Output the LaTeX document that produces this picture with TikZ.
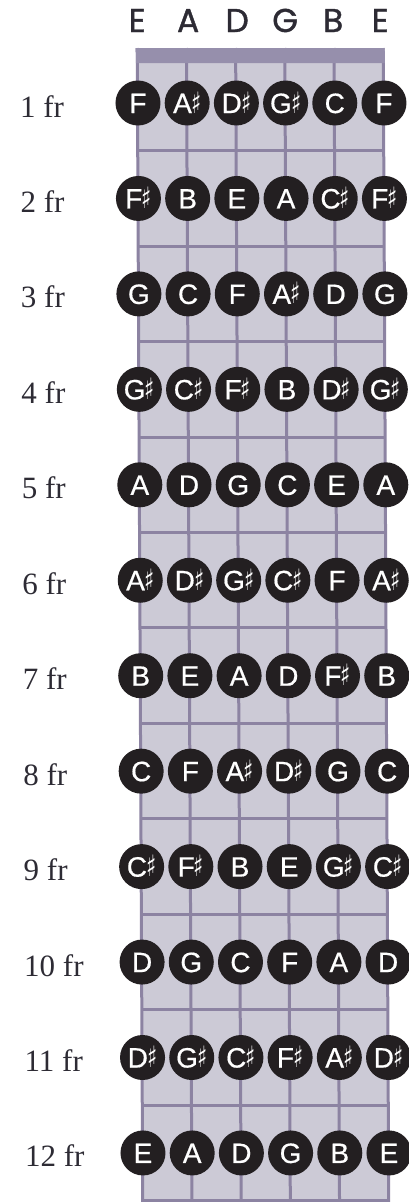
\documentclass[tikz,border=0pt]{standalone}
\usepackage{fontspec}
\newfontfamily\hdrfont{Poppins}[FakeBold=1.2]
\newfontfamily\notefont{Liberation Sans}[FakeBold=0.6]
\newfontfamily\lblfont{Liberation Serif}
\newfontfamily\symbfont{DejaVu Sans}
\newcommand\shp{\kern-0.8pt\scalebox{0.75}[1.05]{\symbfont ♯}}
\definecolor{board}{RGB}{204,202,214}
\definecolor{fretc}{RGB}{140,131,162}
\definecolor{nutc}{RGB}{150,143,172}
\definecolor{dotc}{RGB}{35,31,33}
\definecolor{lblc}{RGB}{45,43,52}
\begin{document}
\begin{tikzpicture}[x=1pt,y=-1pt,
  note/.style={circle,fill=dotc,minimum size=45pt,inner sep=0pt,text=white,
    text height=20pt,text depth=0pt,font=\notefont\fontsize{28}{28}\selectfont},
  frlabel/.style={anchor=base west,text=lblc,font=\lblfont\fontsize{31}{31}\selectfont},
  strname/.style={anchor=base,text=lblc,font=\hdrfont\fontsize{33}{33}\selectfont},
  fretline/.style={draw=fretc,line width=3pt}]
\useasboundingbox (0,0) rectangle (409,1202);
\begin{scope}[xslant=-0.00476]
  % fretboard
  \fill[board] (137,48) rectangle (383,1202);
  \foreach \i in {0,...,5}
    \draw[fretline] ({137+49.2*\i},48) -- ({137+49.2*\i},1202);
  \foreach \k in {1,...,11}
    \draw[fretline] (137,{103+95.45*(\k-0.5)}) -- (383,{103+95.45*(\k-0.5)});
  \draw[fretline] (137,1200) -- (383,1200);
  \fill[nutc] (135.5,48) rectangle (384.5,63);
  % string names
  \foreach \s/\xx [count=\j] in {E/137,A/188,D/237,G/285,B/333,E/380}
    \node[strname] (h\j) at (\xx,32) {\s};
  % notes
  \foreach \row [count=\k] in {
    {F,A\shp,D\shp,G\shp,C,F},
    {F\shp,B,E,A,C\shp,F\shp},
    {G,C,F,A\shp,D,G},
    {G\shp,C\shp,F\shp,B,D\shp,G\shp},
    {A,D,G,C,E,A},
    {A\shp,D\shp,G\shp,C\shp,F,A\shp},
    {B,E,A,D,F\shp,B},
    {C,F,A\shp,D\shp,G,C},
    {C\shp,F\shp,B,E,G\shp,C\shp},
    {D,G,C,F,A,D},
    {D\shp,G\shp,C\shp,F\shp,A\shp,D\shp},
    {E,A,D,G,B,E}} {
    \node[frlabel] (f\k) at (16,{103+95.45*(\k-1)+14}) {\k\ fr};
    \foreach \n [count=\i from 0] in \row
      \node[note] (n\k-\i) at ({137.5+49.2*\i},{103+95.45*(\k-1)}) {\n};
  }
\end{scope}
\end{tikzpicture}
\end{document}
